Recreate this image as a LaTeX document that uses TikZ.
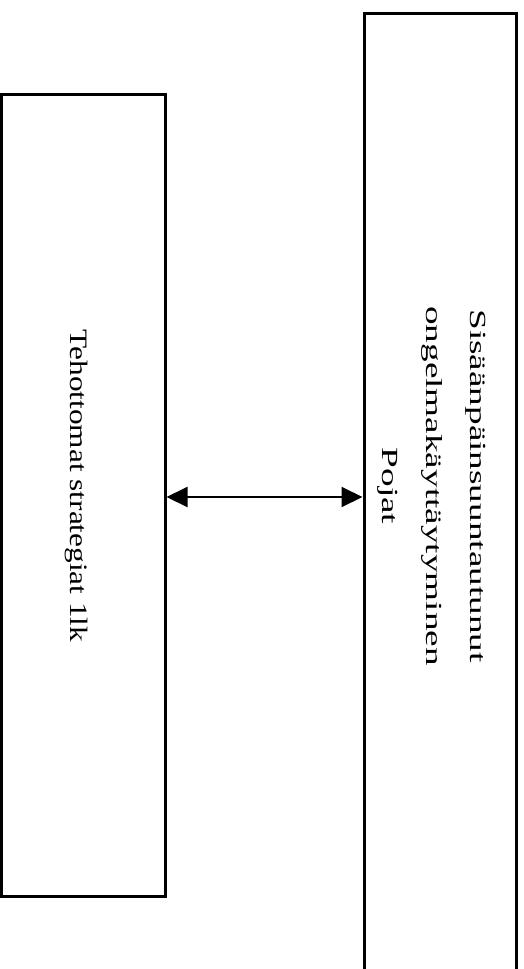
\documentclass[tikz,border=0pt]{standalone}
\usepackage{fontspec}
\setmainfont{Liberation Serif}
\usetikzlibrary{arrows.meta, positioning}
\tikzset{box/.style={draw, line width=3pt, inner sep=0pt}}
\tikzset{vtext/.style={rotate=-90, anchor=base, inner sep=0pt}}

\begin{document}
\begin{tikzpicture}[x=1pt, y=-1pt, >={Triangle[length=21pt, width=20pt]}, line width=2pt]
\useasboundingbox (0,0) rectangle (523,969);
\node[box, minimum width=163.5pt, minimum height=802pt] (strat) at (83.25,495) {};
\node[box, minimum width=152pt, minimum height=968pt] (pojat) at (440,497) {};
\node[vtext, font=\fontsize{31.3}{36}\selectfont, yscale=0.8] (strattext) at (70,486) {Tehottomat strategiat 1lk};
\node[vtext, font=\fontsize{37.2}{71}\selectfont, yscale=0.62, align=center] (pojattext) at (382,486) {Sisäänpäinsuuntautunut\\ongelmakäyttäytyminen\\Pojat};
\draw [<->] (pojat.west -| strat.east) -- (pojat.west);
\end{tikzpicture}
\end{document}
